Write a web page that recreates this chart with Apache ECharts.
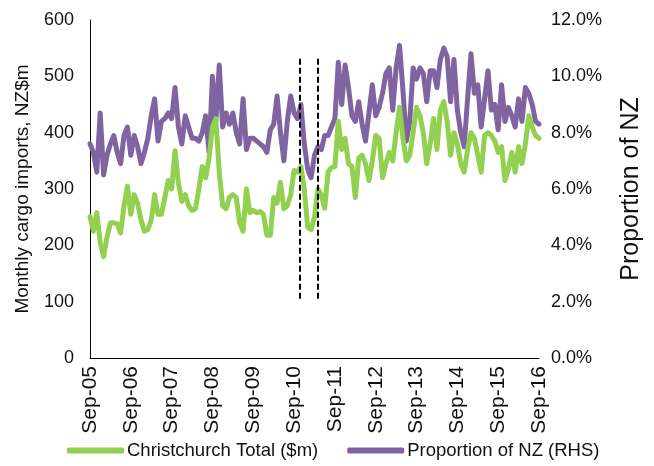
<!DOCTYPE html>
<html>
<head>
<meta charset="utf-8">
<script src="https://cdn.jsdelivr.net/npm/echarts@6/dist/echarts.min.js"></script>
<style>
html,body{margin:0;padding:0;background:#fff;}
#chart{width:654px;height:466px;}
</style>
</head>
<body>
<div id="chart"></div>
<script>
// Tick labels (every 12 months, starting Sep-05)
const tickLabels = ['Sep-05','Sep-06','Sep-07','Sep-08','Sep-09','Sep-10','Sep-11','Sep-12','Sep-13','Sep-14','Sep-15','Sep-16'];

// Christchurch Total ($m), monthly from Sep-05
const christchurchTotal = [
  251,225,258,205,180,215,240,240,238,222,270,305,
  255,290,275,245,225,228,245,290,255,255,285,315,
  300,368,310,278,290,270,262,265,300,340,320,355,
  410,425,330,270,265,285,290,285,240,225,300,258,
  262,258,260,255,218,218,285,275,312,265,270,290,
  333,330,340,300,232,228,250,300,290,266,330,338,
  340,420,370,390,345,340,285,355,360,345,315,350,
  395,390,320,345,365,350,400,445,390,350,360,400,
  445,430,400,345,380,425,370,440,455,420,360,400,
  380,345,330,370,400,390,360,330,395,400,395,385,
  365,375,315,335,365,330,375,345,380,430,410,395,
  390
];

// Proportion of NZ (RHS), %
const proportionNZ = [
  7.6,7.3,6.6,8.7,6.5,7.2,7.6,7.9,7.3,6.9,7.9,8.2,
  7.2,7.9,7.5,6.9,7.3,7.8,8.6,9.2,7.7,8.4,8.5,8.7,
  8.5,9.6,8.2,7.6,8.6,8.2,7.8,7.8,7.7,8.0,8.6,7.3,
  10.0,8.4,10.4,8.2,8.7,8.3,8.7,8.0,7.6,9.2,7.4,7.8,
  7.8,7.7,7.6,7.5,7.3,8.1,8.3,9.3,8.0,7.0,8.4,9.3,
  8.7,8.5,9.0,7.6,6.7,6.4,7.2,7.5,7.4,7.9,7.9,8.2,
  8.5,10.5,9.0,10.4,9.6,8.6,8.4,9.1,8.3,7.7,8.7,9.7,
  8.6,8.9,9.4,10.1,10.3,8.8,10.3,11.1,9.5,7.7,8.4,10.3,
  9.9,10.3,10.1,9.1,10.2,10.2,9.6,10.6,11.0,10.7,9.1,10.6,
  8.8,8.0,7.5,9.2,10.8,9.4,9.7,8.2,9.2,10.2,8.8,9.0,
  8.1,9.7,8.4,8.9,8.6,8.2,9.2,8.4,9.6,9.4,9.0,8.4,
  8.3
];

// Earthquake marker lines (month index from Sep-05) and their vertical extent (left-axis units)
const markerMonths = [61.7, 66.9];
const markerRange = [105, 535];

const textColor = '#111';
const font = 'Liberation Sans, Arial, sans-serif';

const chart = echarts.init(document.getElementById('chart'), null, {renderer: 'canvas'});

const markLineData = markerMonths.map(m => [
  {coord: [m, markerRange[0]], symbol: 'none'},
  {coord: [m, markerRange[1]], symbol: 'none'}
]);

chart.setOption({
  animation: false,
  backgroundColor: '#fff',
  grid: {left: 90, right: 115, top: 20, bottom: 108, containLabel: false},
  legend: {
    bottom: 1, left: 62,
    itemWidth: 57, itemHeight: 6, itemGap: 29,
    icon: 'roundRect',
    textStyle: {fontSize: 18.5, color: textColor, fontFamily: font, padding: [0,0,0,-2]},
    data: ['Christchurch Total ($m)', 'Proportion of NZ (RHS)']
  },
  xAxis: {
    type: 'value', min: 0, max: (tickLabels.length - 1) * 12, interval: 12,
    splitLine: {show: false},
    axisLine: {show: true, lineStyle: {color: '#000', width: 1}},
    axisTick: {show: false},
    axisLabel: {
      rotate: 90, margin: 8, fontSize: 21, color: textColor, fontFamily: font,
      formatter: v => tickLabels[Math.round(v / 12)] || ''
    }
  },
  yAxis: [
    {
      type: 'value', min: 0, max: 600, interval: 100,
      name: 'Monthly cargo imports, NZ$m', nameLocation: 'middle', nameGap: 58, nameRotate: 90,
      nameTextStyle: {fontSize: 19, color: textColor, fontFamily: font},
      splitLine: {show: false},
      axisLine: {show: true, lineStyle: {color: '#000', width: 1}},
      axisTick: {show: false},
      axisLabel: {fontSize: 18, color: textColor, fontFamily: font, margin: 16}
    },
    {
      type: 'value', min: 0, max: 12, interval: 2, position: 'right',
      name: 'Proportion of NZ', nameLocation: 'middle', nameGap: 80, nameRotate: 90,
      nameTextStyle: {fontSize: 25, color: textColor, fontFamily: font},
      splitLine: {show: false},
      axisLine: {show: false},
      axisTick: {show: false},
      axisLabel: {fontSize: 18, color: textColor, fontFamily: font, margin: 12,
        formatter: v => v.toFixed(1) + '%'}
    }
  ],
  series: [
    {
      name: 'Christchurch Total ($m)', type: 'line', yAxisIndex: 0,
      data: christchurchTotal.map((v, i) => [i, v]),
      showSymbol: false, symbol: 'none',
      lineStyle: {color: '#92D050', width: 5, join: 'round', cap: 'round'},
      itemStyle: {color: '#92D050'},
      markLine: {
        silent: true, symbol: 'none', label: {show: false},
        lineStyle: {color: '#000', width: 2, type: [6, 3]},
        data: markLineData
      },
      z: 3
    },
    {
      name: 'Proportion of NZ (RHS)', type: 'line', yAxisIndex: 1,
      data: proportionNZ.map((v, i) => [i, v]),
      showSymbol: false, symbol: 'none',
      lineStyle: {color: '#8064A2', width: 5, join: 'round', cap: 'round'},
      itemStyle: {color: '#8064A2'},
      z: 2
    }
  ]
});
</script>
</body>
</html>
